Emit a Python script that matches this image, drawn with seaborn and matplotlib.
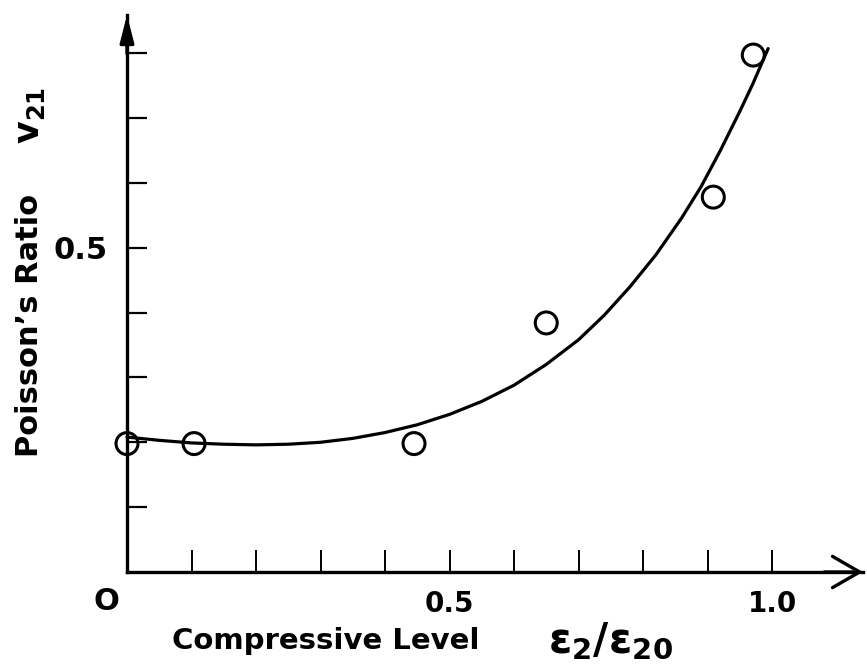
import matplotlib
matplotlib.use("Agg")
import matplotlib.pyplot as plt
import seaborn as sns
import pandas as pd

# measured points (compressive level, Poisson's ratio)
level_points = [0.0, 0.104, 0.445, 0.65, 0.909, 0.971]
ratio_points = [0.198, 0.198, 0.198, 0.384, 0.578, 0.797]

# fitted curve
curve_level = [0.00, 0.05, 0.10, 0.15, 0.20, 0.25, 0.30, 0.35, 0.40, 0.45, 0.50,
               0.55, 0.60, 0.65, 0.70, 0.74, 0.78, 0.82, 0.86, 0.89, 0.92, 0.95,
               0.97, 0.994]
curve_ratio = [0.208, 0.203, 0.199, 0.197, 0.196, 0.197, 0.200, 0.206, 0.215, 0.227,
               0.243, 0.263, 0.288, 0.320, 0.358, 0.396, 0.440, 0.489, 0.546, 0.594,
               0.650, 0.710, 0.752, 0.807]

x_ticks = [0.1, 0.2, 0.3, 0.4, 0.5, 0.6, 0.7, 0.8, 0.9, 1.0]
x_tick_labels = ["", "", "", "", "0.5", "", "", "", "", "1.0"]
y_ticks = [0.1, 0.2, 0.3, 0.4, 0.5, 0.6, 0.7, 0.8]
y_tick_labels = ["", "", "", "", "0.5", "", "", ""]

sns.set_theme(style="white")
plt.rcParams["font.family"] = ["DejaVu Sans"]
plt.rcParams["text.color"] = "black"
plt.rcParams["axes.labelcolor"] = "black"
plt.rcParams["xtick.color"] = "black"
plt.rcParams["ytick.color"] = "black"
plt.rcParams["mathtext.fontset"] = "custom"
plt.rcParams["mathtext.rm"] = "DejaVu Sans:bold"
plt.rcParams["mathtext.it"] = "DejaVu Sans:bold"
plt.rcParams["mathtext.bf"] = "DejaVu Sans:bold"

W, H = 867, 671
fig = plt.figure(figsize=(W / 100, H / 100), dpi=100)
x0, y0 = 127, 572
sx, sy = 645.0, 648.6
xmax, ymax = 1.141, 0.859
ax = fig.add_axes([x0 / W, (H - y0) / H, xmax * sx / W, ymax * sy / H])

pts = pd.DataFrame({"level": level_points, "ratio": ratio_points})
crv = pd.DataFrame({"level": curve_level, "ratio": curve_ratio})

sns.lineplot(data=crv, x="level", y="ratio", ax=ax, color="black", lw=2.3,
             sort=False, clip_on=False)
sns.scatterplot(data=pts, x="level", y="ratio", ax=ax, marker="o", s=250,
                facecolor="none", edgecolor="black", linewidth=2.2, clip_on=False,
                zorder=5)

ax.set_xlim(0, xmax)
ax.set_ylim(0, ymax)
ax.set_xticks(x_ticks)
ax.set_xticklabels(x_tick_labels, fontsize=20, fontweight="bold", color="black")
ax.set_yticks(y_ticks)
ax.set_yticklabels(y_tick_labels, fontsize=22, fontweight="bold", color="black")
ax.tick_params(axis="x", bottom=True, direction="in", length=16, width=1.4, pad=13,
               colors="black")
ax.tick_params(axis="y", left=True, direction="in", length=14.5, width=1.6, pad=14,
               colors="black")
ax.set_xlabel("")
ax.set_ylabel("")

for s in ["top", "right"]:
    ax.spines[s].set_visible(False)
for s in ["left", "bottom"]:
    ax.spines[s].set_color("black")
    ax.spines[s].set_linewidth(2.4)

# axis arrows
ax.annotate("", xy=(0, ymax), xytext=(0, ymax - 0.06), xycoords="data",
            arrowprops=dict(arrowstyle="-|>,head_length=1.1,head_width=0.28",
                            lw=2.4, color="black", mutation_scale=15,
                            shrinkA=0, shrinkB=0), annotation_clip=False)
ax.annotate("", xy=(xmax, 0), xytext=(xmax - 0.06, 0), xycoords="data",
            arrowprops=dict(arrowstyle="->,head_length=1.3,head_width=0.75",
                            lw=2.4, color="black", mutation_scale=15,
                            shrinkA=0, shrinkB=0), annotation_clip=False)

# origin label
fig.text(106 / W, 1 - 601 / H, "O", fontsize=22, fontweight="bold",
         ha="center", va="center", color="black")

# axis titles
fig.text(326 / W, 1 - 641 / H, "Compressive Level",
         fontsize=21, fontweight="bold", ha="center", va="center", color="black")
fig.text(610 / W, 1 - 641 / H, r"$\mathrm{ε_{2}/ε_{20}}$",
         fontsize=30, ha="center", va="center", color="black")
fig.text(30 / W, 1 - 325 / H, "Poisson’s Ratio",
         fontsize=22, fontweight="bold", ha="center", va="center", rotation=90,
         color="black")
fig.text(30 / W, 1 - 115 / H, r"$\mathrm{v_{21}}$",
         fontsize=25, ha="center", va="center", rotation=90, color="black")

fig.savefig("out.png", dpi=100, facecolor="white")
